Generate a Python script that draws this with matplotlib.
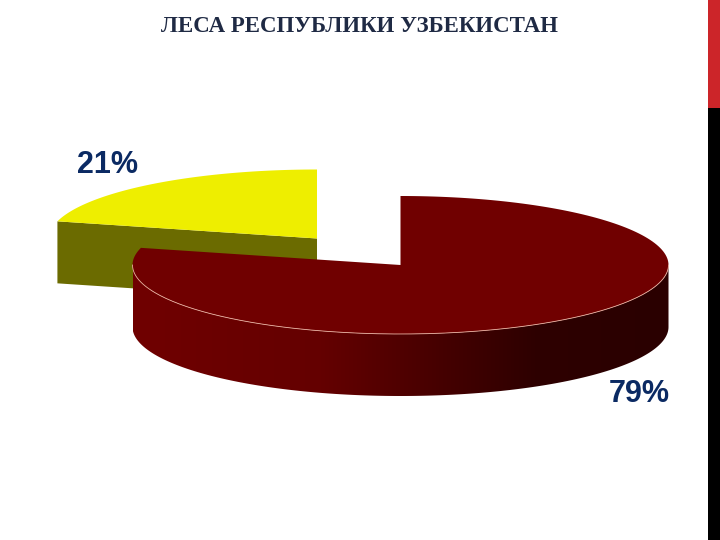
import numpy as np
import matplotlib
matplotlib.use('Agg')
import matplotlib.pyplot as plt
from matplotlib.patches import Polygon, Rectangle
from matplotlib.colors import LinearSegmentedColormap

# Data
title = 'ЛЕСА РЕСПУБЛИКИ УЗБЕКИСТАН'
labels = ['21%', '79%']
shares = [21, 79]

# Fake 3D pie, everything in pixels of the 720x540 image
rx, ry, depth = 268, 69, 62
big_center = (400.5, 265)
small_center = (317, 238.5)


def arc(center, a0, a1, n=200, drop=0):
    t = np.radians(np.linspace(a0, a1, n))
    return np.column_stack([center[0] + rx * np.cos(t), center[1] + drop - ry * np.sin(t)])


fig = plt.figure(figsize=(7.2, 5.4), dpi=100)
ax = fig.add_axes([0, 0, 1, 1])

# slices go clockwise from 12 o'clock, 79% first
split = 90 + shares[0] / sum(shares) * 360

# yellow slice (moved out to the upper left)
edge = arc(small_center, split, split, 1)
wall = np.vstack([edge, [small_center], [[small_center[0], small_center[1] + depth]],
                  edge + [0, depth]])
ax.add_patch(Polygon(wall, fc='#6b6b00', ec='none', zorder=1))
top = np.vstack([[small_center], arc(small_center, 90, split)])
ax.add_patch(Polygon(top, fc='#eeee00', ec='none', zorder=2))

# red slice, side wall with gradient
front = arc(big_center, 180, 360)
side = np.vstack([front, arc(big_center, 360, 180, drop=depth)])
patch = Polygon(side, fc='none', ec='none', zorder=3)
ax.add_patch(patch)
cmap = LinearSegmentedColormap.from_list('wall', [(0, '#700000'), (0.35, '#640000'),
                                                  (0.75, '#2e0000'), (1, '#2a0000')])
im = ax.imshow(np.linspace(0, 1, 256).reshape(1, -1), cmap=cmap, aspect='auto',
               extent=(big_center[0] - rx, big_center[0] + rx, 400, 190), zorder=3)
im.set_clip_path(patch)

# red slice, top
top = np.vstack([[big_center], arc(big_center, split, 450)])
ax.add_patch(Polygon(top, fc='#700000', ec='none', zorder=4))
rim = arc(big_center, 180, 360)
ax.plot(rim[:, 0], rim[:, 1], color='#e8b0a0', lw=0.6, zorder=5)

# percentage labels
ax.text(108, 165, labels[0], family='Liberation Sans', fontweight='bold', fontsize=22,
        color='#0b2a63', ha='center', va='center', zorder=6)
ax.text(639.5, 394, labels[1], family='Liberation Sans', fontweight='bold', fontsize=22,
        color='#0b2a63', ha='center', va='center', zorder=6)

# title
ax.text(359.5, 27, title, family='Liberation Serif', fontsize=16.5, fontweight='bold',
        color='#1f2a44', ha='center', va='center')

# bars on the right edge
ax.add_patch(Rectangle((708, 0), 12, 108, fc='#cc2529', ec='none'))
ax.add_patch(Rectangle((708, 108), 12, 432, fc='black', ec='none'))

ax.set_xlim(0, 720)
ax.set_ylim(540, 0)
ax.axis('off')

fig.savefig('out.png', dpi=100)
